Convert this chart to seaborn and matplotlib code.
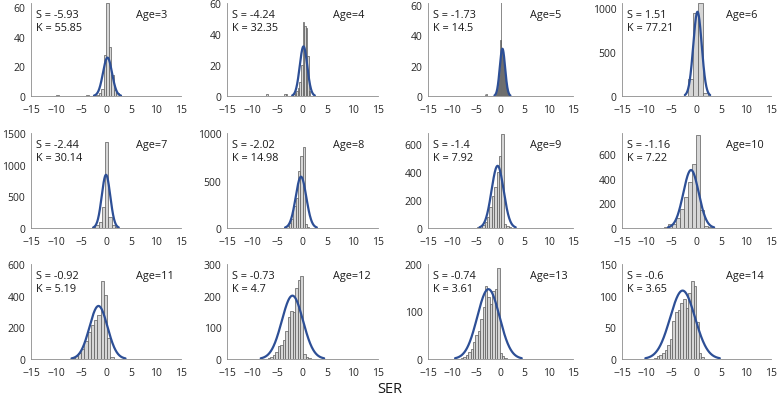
import numpy as np
import pandas as pd
import seaborn as sns
import matplotlib.pyplot as plt

# Распределение SER по возрастам (гистограммы + нормальная аппроксимация)

ages = [3, 4, 5, 6, 7, 8, 9, 10, 11, 12, 13, 14]
skew = ['-5.93', '-4.24', '-1.73', '1.51', '-2.44', '-2.02', '-1.4', '-1.16', '-0.92', '-0.73', '-0.74', '-0.6']
kurt = ['55.85', '32.35', '14.5', '77.21', '30.14', '14.98', '7.92', '7.22', '5.19', '4.7', '3.61', '3.65']

# левая граница первого бина и ширина бина
bin_start = [-10.0, -7.2, -3.3, -2.66, -2.8, -4.14, -4.8, -6.53, -7.6, -6.9, -8.2, -8.55]
bin_width = [0.5, 0.3, 0.1, 1.0, 0.65, 0.46, 0.5, 0.8, 0.65, 0.5, 0.5, 0.53]

counts_3 = [1, 0, 0, 0, 0, 0, 0, 0, 0, 0, 0, 0, 1, 0, 0, 0, 1, 2, 5, 28, 63, 33, 14, 4, 2]
counts_4 = [1, 0, 0, 0, 0, 0, 0, 0, 0, 0, 0, 0, 1, 1, 0, 0, 0, 0, 1, 2, 3, 5, 9, 20, 48, 45, 44, 26, 3]
counts_5 = ([1, 0, 0, 0, 1] + [0] * 18 +
            [1, 2, 3, 4, 6, 8, 11, 14, 18, 37, 62, 27, 30, 31, 30, 28, 25, 21, 17, 13,
             10, 7, 5, 4, 3, 2, 1, 1])
counts_6 = [5, 190, 947, 1060, 35, 3]
counts_7 = [15, 40, 100, 330, 1351, 170, 40, 10, 3]
counts_8 = [5, 12, 25, 50, 100, 227, 318, 598, 755, 850, 45, 12, 4]
counts_9 = [6, 12, 25, 45, 80, 150, 232, 292, 398, 517, 671, 30, 15, 5]
counts_10 = [10, 30, 35, 80, 155, 250, 373, 515, 755, 145, 20, 5]
counts_11 = [3, 8, 20, 40, 65, 115, 170, 215, 245, 280, 495, 407, 135, 10, 3]
counts_12 = [3, 6, 12, 22, 40, 45, 60, 88, 133, 151, 149, 223, 250, 263, 15, 5, 3]
counts_13 = [3, 5, 8, 15, 22, 35, 50, 60, 85, 110, 153, 130, 116, 144, 147, 192, 12, 6, 3]
counts_14 = [2, 4, 7, 10, 15, 22, 32, 60, 75, 78, 88, 94, 80, 104, 123, 115, 58, 10, 3]
all_counts = [counts_3, counts_4, counts_5, counts_6, counts_7, counts_8,
              counts_9, counts_10, counts_11, counts_12, counts_13, counts_14]

# параметры нормальной кривой: среднее, СКО, высота пика
fit_mu = [0.3, 0.2, 0.4, 0.2, 0.0, -0.3, -0.6, -1.1, -1.5, -2.0, -2.5, -2.8]
fit_sd = [0.9, 0.75, 0.55, 0.85, 0.85, 1.05, 1.25, 1.55, 1.8, 2.1, 2.3, 2.5]
fit_peak = [26, 32, 31, 960, 840, 540, 445, 470, 335, 200, 147, 108]

y_max = [63, 60, 61, 1060, 1500, 1000, 680, 770, 600, 300, 200, 150]
y_ticks = [[0, 20, 40, 60], [0, 20, 40, 60], [0, 20, 40, 60], [0, 500, 1000],
           [0, 500, 1000, 1500], [0, 500, 1000], [0, 200, 400, 600], [0, 200, 400, 600],
           [0, 200, 400, 600], [0, 100, 200, 300], [0, 100, 200], [0, 50, 100, 150]]

sns.set_style('white')
plt.rcParams['font.family'] = ['Open Sans', 'DejaVu Sans']

W, H = 778, 406
fig = plt.figure(figsize=(W / 100, H / 100), dpi=100)

col_left = [31, 227, 428, 622]
col_width = [150, 151, 145, 149]
row_top = [4, 134, 265]
row_bottom = [97, 229, 360]

bar_face = '#d6d6d6'
bar_edge = '#5a5a5a'
curve_color = '#2d4f96'
axis_color = '#8c8c8c'

for i, age in enumerate(ages):
    r, c = divmod(i, 4)
    ax = fig.add_axes([col_left[c] / W, 1 - row_bottom[r] / H,
                       col_width[c] / W, (row_bottom[r] - row_top[r]) / H])
    counts = np.array(all_counts[i], dtype=float)
    edges = bin_start[i] + bin_width[i] * np.arange(len(counts) + 1)
    df = pd.DataFrame({'SER': (edges[:-1] + edges[1:]) / 2, 'n': counts})
    sns.histplot(data=df, x='SER', weights='n', bins=edges.tolist(), ax=ax,
                 color=bar_face, edgecolor=bar_edge, linewidth=0.5, alpha=1)

    xs = np.linspace(fit_mu[i] - 3 * fit_sd[i], fit_mu[i] + 3 * fit_sd[i], 200)
    ys = fit_peak[i] * np.exp(-0.5 * ((xs - fit_mu[i]) / fit_sd[i]) ** 2)
    sns.lineplot(x=xs, y=ys, ax=ax, color=curve_color, linewidth=1.6, sort=False)

    ax.set_xlim(-15, 15)
    ax.set_ylim(0, y_max[i])
    ax.set_xticks(range(-15, 16, 5))
    ax.set_yticks(y_ticks[i])
    ax.set_xlabel('')
    ax.set_ylabel('')
    ax.tick_params(axis='both', labelsize=7.5, colors='#262626', direction='in',
                   length=2, width=0.5, color=axis_color)
    ax.tick_params(axis='x', pad=5.5)
    ax.tick_params(axis='y', pad=4)
    for side in ['top', 'right']:
        ax.spines[side].set_visible(False)
    for side in ['left', 'bottom']:
        ax.spines[side].set_color(axis_color)
        ax.spines[side].set_linewidth(0.6)

    ax.text(0.035, 0.88, f'S = {skew[i]}', transform=ax.transAxes, fontsize=7.8,
            va='center', ha='left', color='#1a1a1a')
    ax.text(0.035, 0.74, f'K = {kurt[i]}', transform=ax.transAxes, fontsize=7.8,
            va='center', ha='left', color='#1a1a1a')
    ax.text(0.70, 0.88, f'Age={age}', transform=ax.transAxes, fontsize=7.8,
            va='center', ha='left', color='#1a1a1a')

fig.text(390 / W, 1 - 390 / H, 'SER', ha='center', va='center', fontsize=10.5,
         color='#1a1a1a')

fig.savefig('out.png', dpi=100)
